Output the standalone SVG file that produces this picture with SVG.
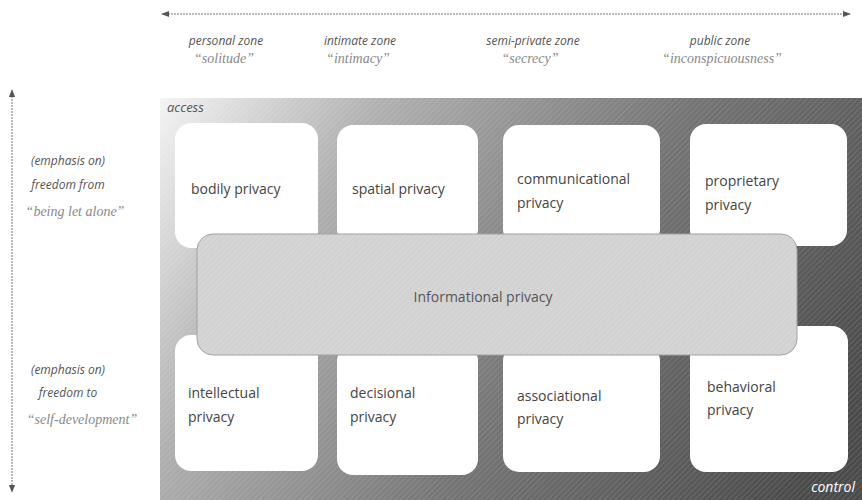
<svg xmlns="http://www.w3.org/2000/svg" width="862" height="500" viewBox="0 0 862 500">
<defs>
<linearGradient id="bg" x1="160" y1="98" x2="800" y2="500" gradientUnits="userSpaceOnUse">
<stop offset="0" stop-color="#f4f4f4"/>
<stop offset="0.25" stop-color="#b0b0b0"/>
<stop offset="0.6" stop-color="#747474"/>
<stop offset="1" stop-color="#4a4a4a"/>
</linearGradient>
<pattern id="hatch" width="4" height="4" patternUnits="userSpaceOnUse" patternTransform="rotate(45)">
<line x1="0" y1="0" x2="0" y2="4" stroke="#ffffff" stroke-opacity="0.25" stroke-width="1"/>
</pattern>
<marker id="ah" viewBox="0 0 10 10" refX="9" refY="5" markerWidth="8" markerHeight="8" orient="auto-start-reverse">
<path d="M0,1 L10,5 L0,9 z" fill="#555"/>
</marker>
<style>
.box{fill:#fff;}
.lbl{font-family:"Open Sans","Liberation Sans",sans-serif;font-size:14px;fill:#444;}
.zone{font-family:"Open Sans","Liberation Sans",sans-serif;font-size:12px;font-style:italic;fill:#555;}
.q{font-family:"Liberation Serif",serif;font-size:14px;font-style:italic;fill:#888;}
.ax{stroke:#777;stroke-width:1;stroke-dasharray:2 1;fill:none;}
</style>
</defs>

<g id="connectors">
<line class="ax" x1="162" y1="14" x2="850" y2="14" marker-start="url(#ah)" marker-end="url(#ah)"/>
<line class="ax" x1="12" y1="90" x2="12" y2="492" marker-start="url(#ah)" marker-end="url(#ah)"/>
</g>

<g id="zones">
<text class="zone" x="226" y="45" text-anchor="middle">personal zone</text>
<text class="q" x="224" y="63" text-anchor="middle">“solitude”</text>
<text class="zone" x="360" y="45" text-anchor="middle">intimate zone</text>
<text class="q" x="358" y="63" text-anchor="middle">“intimacy”</text>
<text class="zone" x="533" y="45" text-anchor="middle">semi-private zone</text>
<text class="q" x="530" y="63" text-anchor="middle">“secrecy”</text>
<text class="zone" x="720" y="45" text-anchor="middle">public zone</text>
<text class="q" x="722" y="63" text-anchor="middle">“inconspicuousness”</text>
</g>

<g id="side">
<text class="zone" x="68" y="165" text-anchor="middle">(emphasis on)</text>
<text class="zone" x="68" y="189" text-anchor="middle">freedom from</text>
<text class="q" x="75" y="216" text-anchor="middle">“being let alone”</text>
<text class="zone" x="68" y="374" text-anchor="middle">(emphasis on)</text>
<text class="zone" x="68" y="397" text-anchor="middle">freedom to</text>
<text class="q" x="82" y="424" text-anchor="middle">“self-development”</text>
</g>

<g id="field">
<rect x="160" y="98" width="702" height="402" fill="url(#bg)"/>
<rect x="160" y="98" width="702" height="402" fill="url(#hatch)"/>
<text class="zone" x="167" y="112" style="fill:#555;font-size:13px">access</text>
<text class="zone" x="855" y="492" text-anchor="end" style="fill:#fff;font-size:14px">control</text>
</g>

<g id="bodily"><rect class="box" x="175" y="123" width="143" height="125" rx="16"/><text class="lbl" x="191" y="194">bodily privacy</text></g>
<g id="spatial"><rect class="box" x="337" y="125" width="141" height="120" rx="16"/><text class="lbl" x="352" y="194">spatial privacy</text></g>
<g id="communicational"><rect class="box" x="503" y="125" width="157" height="120" rx="16"/><text class="lbl" x="517" y="184">communicational</text><text class="lbl" x="517" y="208">privacy</text></g>
<g id="proprietary"><rect class="box" x="690" y="124" width="157" height="122" rx="16"/><text class="lbl" x="705" y="186">proprietary</text><text class="lbl" x="705" y="210">privacy</text></g>

<g id="intellectual"><rect class="box" x="175" y="335" width="143" height="136" rx="16"/><text class="lbl" x="188" y="398">intellectual</text><text class="lbl" x="188" y="422">privacy</text></g>
<g id="decisional"><rect class="box" x="337" y="345" width="141" height="130" rx="16"/><text class="lbl" x="350" y="398">decisional</text><text class="lbl" x="350" y="422">privacy</text></g>
<g id="associational"><rect class="box" x="503" y="345" width="157" height="127" rx="16"/><text class="lbl" x="517" y="401">associational</text><text class="lbl" x="517" y="424">privacy</text></g>
<g id="behavioral"><rect class="box" x="690" y="326" width="158" height="146" rx="16"/><text class="lbl" x="707" y="392">behavioral</text><text class="lbl" x="707" y="415">privacy</text></g>

<g id="informational">
<rect x="197" y="234" width="600" height="121" rx="16" fill="#d2d2d2" stroke="#a0a0a0" stroke-width="1"/>
<rect x="197" y="234" width="600" height="121" rx="16" fill="url(#hatch)"/>
<text class="lbl" x="483" y="302" text-anchor="middle" style="fill:#555">Informational privacy</text>
</g>
</svg>
